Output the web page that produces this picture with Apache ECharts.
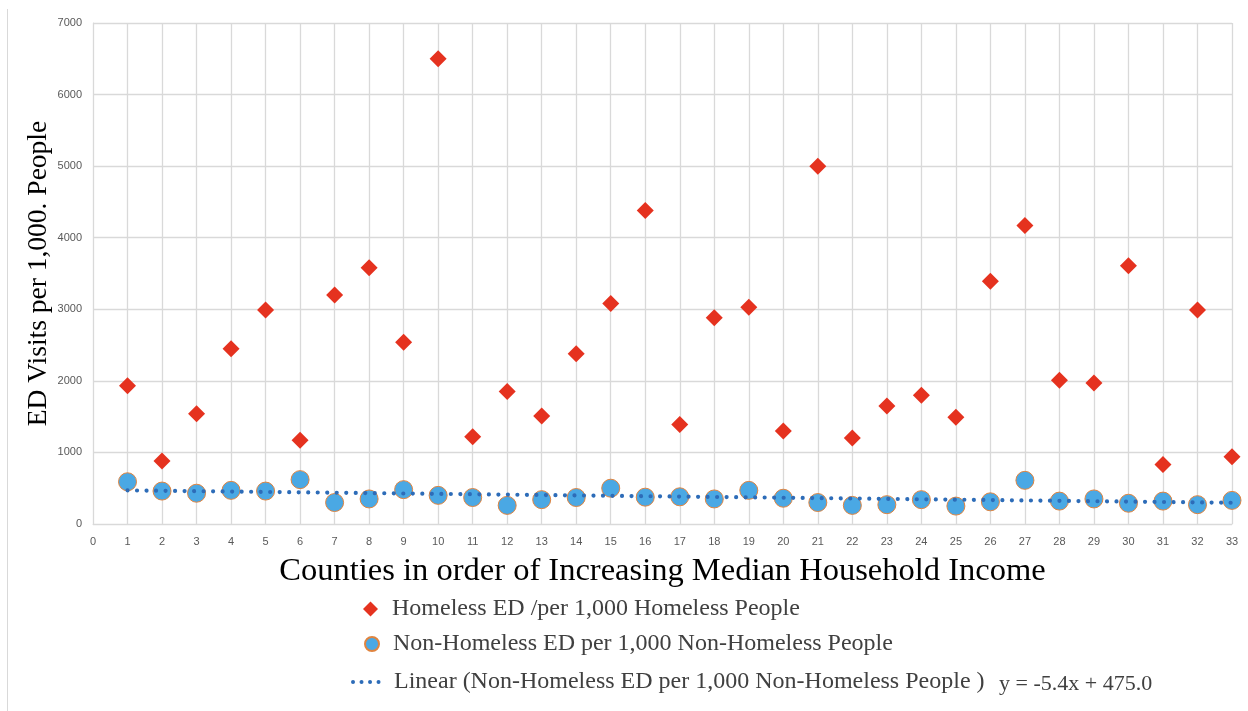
<!DOCTYPE html>
<html>
<head>
<meta charset="utf-8">
<script src="https://cdn.jsdelivr.net/npm/echarts@6/dist/echarts.min.js"></script>
<style>
  html, body { margin: 0; padding: 0; background: #ffffff; }
  #chart { width: 1248px; height: 711px; }
</style>
</head>
<body>
<div id="chart"></div>
<script>
// County index, ordered by increasing median household income
const counties = [1, 2, 3, 4, 5, 6, 7, 8, 9, 10, 11, 12, 13, 14, 15, 16, 17,
  18, 19, 20, 21, 22, 23, 24, 25, 26, 27, 28, 29, 30, 31, 32, 33];

// ED visits per 1,000 homeless people
const homelessED = [1930, 880, 1540, 2450, 2990, 1170, 3200, 3580, 2540, 6500,
  1220, 1850, 1510, 2380, 3080, 4380, 1390, 2880, 3030, 1300, 5000, 1200,
  1650, 1800, 1490, 3390, 4170, 2010, 1970, 3610, 830, 2990, 940];

// ED visits per 1,000 non-homeless people
const nonHomelessED = [590, 460, 430, 470, 460, 620, 300, 350, 480, 400,
  370, 260, 340, 370, 500, 375, 380, 350, 470, 360, 300, 260,
  270, 340, 250, 310, 610, 320, 350, 290, 320, 270, 330];

// Linear trend of the non-homeless series: y = slope * x + intercept
const trendSlope = -5.4;
const trendIntercept = 475.0;
const trendLabel = 'y = -5.4x + 475.0';

const yTicks = [0, 1000, 2000, 3000, 4000, 5000, 6000, 7000];

const nameHomeless = 'Homeless ED /per 1,000 Homeless People';
const nameNonHomeless = 'Non-Homeless ED per 1,000 Non-Homeless People';
const nameTrend = 'Linear (Non-Homeless ED per 1,000 Non-Homeless People )';

const homelessData = counties.map((c, i) => [c, homelessED[i]]);
const nonHomelessData = counties.map((c, i) => [c, nonHomelessED[i]]);
const firstX = counties[0];
const lastX = counties[counties.length - 1];
const trendData = [
  [firstX, trendSlope * firstX + trendIntercept],
  [lastX, trendSlope * lastX + trendIntercept]
];

const serif = '"Liberation Serif", "Times New Roman", serif';
const sans = '"Liberation Sans", Arial, sans-serif';
const gridColor = '#d9d9d9';
const red = '#e5321f';
const blue = '#4aa8e4';
const orange = '#e0843f';
const trendBlue = '#2d6cb8';

const legendText = { fontFamily: serif, fontSize: 24, color: '#404040', lineHeight: 26 };

const chart = echarts.init(document.getElementById('chart'), null, { renderer: 'canvas' });

chart.setOption({
  animation: false,
  backgroundColor: '#ffffff',
  grid: { left: 93, right: 16, top: 23, bottom: 187, containLabel: false },
  xAxis: {
    type: 'value',
    min: 0,
    max: 33,
    interval: 1,
    name: 'Counties in order of Increasing Median Household Income',
    nameLocation: 'middle',
    nameGap: 31,
    nameTextStyle: { fontFamily: serif, fontSize: 32.5, color: '#000000' },
    axisLine: { show: true, lineStyle: { color: gridColor, width: 1 } },
    axisTick: { show: false },
    axisLabel: { color: '#595959', fontFamily: sans, fontSize: 11, margin: 12 },
    splitLine: { show: true, lineStyle: { color: gridColor, width: 1.3 } }
  },
  yAxis: {
    type: 'value',
    min: yTicks[0],
    max: yTicks[yTicks.length - 1],
    interval: yTicks[1] - yTicks[0],
    name: 'ED Visits per 1,000. People',
    nameLocation: 'middle',
    nameGap: 40,
    nameMoveOverlap: false,
    nameTextStyle: { fontFamily: serif, fontSize: 27.5, color: '#000000' },
    axisLine: { show: true, lineStyle: { color: gridColor, width: 1 } },
    axisTick: { show: false },
    axisLabel: {
      color: '#595959', fontFamily: sans, fontSize: 11, margin: 11,
      formatter: (v) => String(v)
    },
    splitLine: { show: true, lineStyle: { color: gridColor, width: 1.3 } }
  },
  legend: [
    {
      orient: 'vertical', left: 358, top: 591,
      itemWidth: 15, itemHeight: 15,
      textStyle: Object.assign({ padding: [0, 0, 0, 9] }, legendText),
      data: [{ name: nameHomeless, icon: 'diamond' }]
    },
    {
      orient: 'vertical', left: 359, top: 626,
      itemWidth: 14, itemHeight: 14,
      textStyle: Object.assign({ padding: [0, 0, 0, 9] }, legendText),
      data: [{ name: nameNonHomeless, icon: 'circle' }]
    },
    {
      orient: 'vertical', left: 346, top: 664,
      itemWidth: 34, itemHeight: 12,
      textStyle: Object.assign({ padding: [0, 0, 0, 2] }, legendText),
      itemStyle: { opacity: 0 },
      lineStyle: { color: trendBlue, width: 4, type: [0.01, 8.5], cap: 'round' },
      data: [{ name: nameTrend }]
    }
  ],
  series: [
    {
      name: nameHomeless,
      type: 'scatter',
      symbol: 'diamond',
      symbolSize: 17,
      z: 3,
      itemStyle: { color: red, opacity: 1 },
      data: homelessData
    },
    {
      name: nameNonHomeless,
      type: 'scatter',
      symbol: 'circle',
      symbolSize: 18,
      z: 2,
      itemStyle: { color: blue, borderColor: orange, borderWidth: 1, opacity: 1 },
      data: nonHomelessData
    },
    {
      name: nameTrend,
      type: 'line',
      showSymbol: false,
      symbol: 'none',
      z: 4,
      lineStyle: { color: trendBlue, width: 4.2, type: [0.01, 9.5], cap: 'round' },
      itemStyle: { color: trendBlue },
      data: trendData
    }
  ],
  graphic: [
    {
      type: 'line',
      shape: { x1: 7.5, y1: 9, x2: 7.5, y2: 711 },
      style: { stroke: '#d9d9d9', lineWidth: 1 }
    },
    {
      type: 'text',
      left: 999,
      top: 673,
      style: { text: trendLabel, fontFamily: serif, fontSize: 22, fill: '#404040' }
    }
  ]
});
</script>
</body>
</html>
